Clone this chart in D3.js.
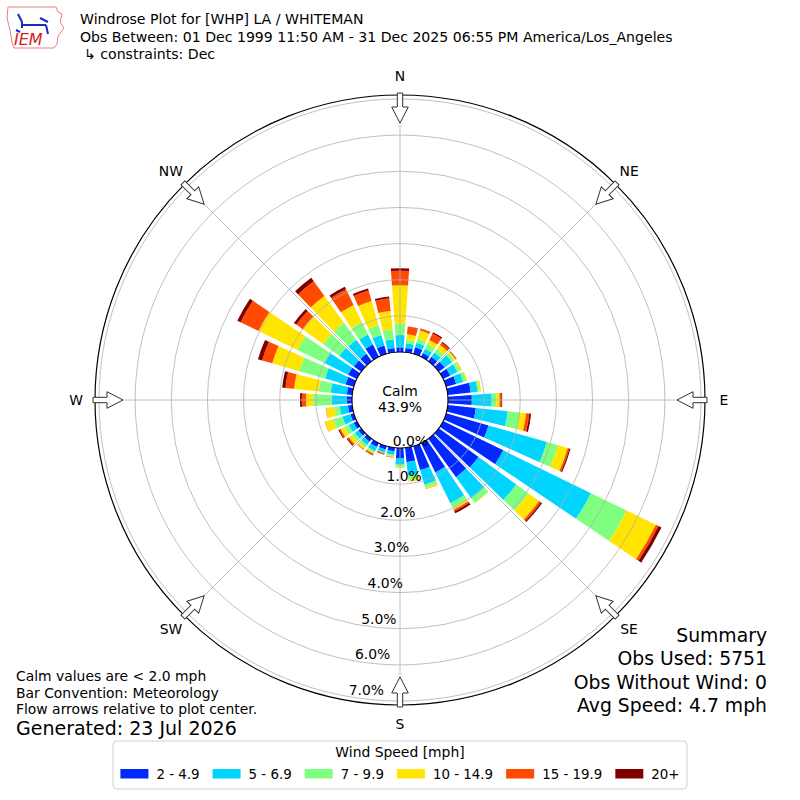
<!DOCTYPE html>
<html>
<head>
<meta charset="utf-8">
<script src="https://cdn.jsdelivr.net/npm/d3@7"></script>
<style>
body { margin: 0; background: #fff; }
text { font-family: "DejaVu Sans", sans-serif; fill: #000; }
</style>
</head>
<body>
<div id="chart"></div>
<script>
var w = 800;
var h = 800;

// wind directions (deg, meteorological) and speed bins
var directions = [0,10,20,30,40,50,60,70,80,90,100,110,120,130,140,150,160,170,
                  180,190,200,210,220,230,240,250,260,270,280,290,300,310,320,330,340,350];
var speedBins = ["2 - 4.9", "5 - 6.9", "7 - 9.9", "10 - 14.9", "15 - 19.9", "20+"];
var binColors = ["#0028ff", "#00d4ff", "#7fff7f", "#ffe500", "#ff4a00", "#800000"];

// percent of obs per direction for each speed bin
var speed2to5   = [0.13,0.12,0.19,0.12,0.15,0.20,0.22,0.29,0.64,0.66,0.78,1.22,1.85,1.36,1.31,0.90,0.69,0.40,
                   0.28,0.10,0.10,0.12,0.10,0.10,0.10,0.10,0.12,0.15,0.15,0.24,0.27,0.25,0.25,0.38,0.24,0.12];
var speed5to7   = [0.34,0.13,0.13,0.13,0.15,0.25,0.22,0.20,0.19,0.55,0.89,1.68,2.70,1.29,0.72,0.95,0.42,0.38,
                   0.18,0.10,0.09,0.13,0.12,0.12,0.15,0.23,0.23,0.41,0.45,0.59,0.72,0.50,0.48,0.31,0.30,0.24];
var speed7to10  = [0.32,0.09,0.12,0.15,0.12,0.08,0.08,0.09,0.06,0.13,0.33,0.32,1.10,0.42,0.16,0.15,0.08,0.10,
                   0.06,0.04,0.02,0.05,0.08,0.10,0.13,0.27,0.15,0.51,0.33,0.74,0.84,0.55,0.58,0.38,0.29,0.28];
var speed10to15 = [1.06,0.16,0.23,0.12,0.13,0.05,0.04,0.03,0.04,0.09,0.18,0.28,0.90,0.36,0.01,0.05,0.04,0.05,
                   0.03,0.03,0.00,0.03,0.06,0.10,0.12,0.23,0.23,0.20,0.69,0.78,1.20,0.70,0.92,0.53,0.69,0.51];
var speed15to20 = [0.40,0.21,0.05,0.20,0.08,0.02,0.01,0.00,0.00,0.05,0.09,0.05,0.08,0.06,0.00,0.05,0.01,0.01,
                   0.00,0.01,0.03,0.04,0.02,0.05,0.04,0.01,0.01,0.12,0.24,0.29,0.55,0.22,0.50,0.48,0.30,0.35];
var speed20up   = [0.07,0.01,0.01,0.04,0.03,0.01,0.00,0.00,0.00,0.02,0.05,0.03,0.09,0.04,0.00,0.06,0.00,0.00,
                   0.00,0.00,0.01,0.01,0.00,0.03,0.03,0.00,0.00,0.05,0.09,0.12,0.10,0.08,0.12,0.08,0.06,0.05];

var rTicks = [0, 1, 2, 3, 4, 5, 6, 7];
var compassNames = ["N", "NE", "E", "SE", "S", "SW", "W", "NW"];
var compassAngles = [0, 45, 90, 135, 180, 225, 270, 315];

var titleLines = ["Windrose Plot for [WHP] LA / WHITEMAN",
                  "Obs Between: 01 Dec 1999 11:50 AM - 31 Dec 2025 06:55 PM America/Los_Angeles",
                  "\u21b3 constraints: Dec"];
var noteLines = ["Calm values are < 2.0 mph", "Bar Convention: Meteorology", "Flow arrows relative to plot center."];
var summaryLines = ["Summary", "Obs Used: 5751", "Obs Without Wind: 0", "Avg Speed: 4.7 mph"];
var calmPct = "43.9%";

var cx = 400, cy = 400;
var calmR = 48, outerR = 305;
var rad = Math.PI / 180;

var svg = d3.select("#chart").append("svg")
    .attr("width", w)
    .attr("height", h)
    .style("background", "#fff");

var rScale = d3.scaleLinear().domain([0, 7.11]).range([calmR, outerR]);

var g = svg.append("g").attr("transform", "translate(" + cx + "," + cy + ")");

// stack the speed bins per direction
var keys = ["b0", "b1", "b2", "b3", "b4", "b5"];
var binValues = [speed2to5, speed5to7, speed7to10, speed10to15, speed15to20, speed20up];
var rows = directions.map(function(d, i) {
    var row = { dir: d };
    keys.forEach(function(k, j) { row[k] = binValues[j][i]; });
    return row;
});
var series = d3.stack().keys(keys)(rows);

var arc = d3.arc();

//Create bars
series.forEach(function(s, k) {
    g.append("g").selectAll("path")
        .data(s.filter(function(p) { return p[1] - p[0] > 0; }))
        .enter()
        .append("path")
        .attr("d", function(p) {
            return arc({
                innerRadius: rScale(p[0]),
                outerRadius: rScale(p[1]),
                startAngle: (p.data.dir - 4) * rad,
                endAngle: (p.data.dir + 4) * rad
            });
        })
        .attr("fill", binColors[k]);
});

// grid on top of bars (matplotlib default)
var grid = g.append("g");
grid.selectAll("circle.ring")
    .data(rTicks.slice(1))
    .enter()
    .append("circle")
    .attr("class", "ring")
    .attr("r", function(d) { return rScale(d); })
    .attr("fill", "none")
    .attr("stroke", "#b0b0b0")
    .attr("stroke-width", 0.8);

grid.selectAll("line.spoke")
    .data(compassAngles)
    .enter()
    .append("line")
    .attr("x1", 0).attr("y1", 0)
    .attr("x2", function(d) { return outerR * Math.sin(d * rad); })
    .attr("y2", function(d) { return -outerR * Math.cos(d * rad); })
    .attr("stroke", "#b0b0b0")
    .attr("stroke-width", 0.8);

g.append("circle")
    .attr("r", outerR)
    .attr("fill", "none")
    .attr("stroke", "#000")
    .attr("stroke-width", 1.2);

// calm circle
g.append("circle")
    .attr("r", calmR)
    .attr("fill", "#fff")
    .attr("stroke", "#000")
    .attr("stroke-width", 1.1);

g.append("text").attr("x", 0).attr("y", -4).attr("text-anchor", "middle")
    .attr("font-size", "13.9px").text("Calm");
g.append("text").attr("x", 0).attr("y", 12).attr("text-anchor", "middle")
    .attr("font-size", "13.9px").text(calmPct);

// flow arrows at compass points
var arrowPts = [[-2.7, -307], [2.7, -307], [2.7, -293], [8.3, -293], [0, -277], [-8.3, -293], [-2.7, -293]];
g.selectAll("path.arrow")
    .data(compassAngles)
    .enter()
    .append("path")
    .attr("class", "arrow")
    .attr("d", "M" + arrowPts.map(function(p) { return p.join(","); }).join("L") + "Z")
    .attr("transform", function(d) { return "rotate(" + d + ")"; })
    .attr("fill", "#fff")
    .attr("stroke", "#333")
    .attr("stroke-width", 1);

// compass labels
g.selectAll("text.compass")
    .data(compassAngles)
    .enter()
    .append("text")
    .attr("x", function(d) { return 324 * Math.sin(d * rad); })
    .attr("y", function(d) { return -324 * Math.cos(d * rad); })
    .attr("dy", "0.35em")
    .attr("text-anchor", "middle")
    .attr("font-size", "13.9px")
    .text(function(d, i) { return compassNames[i]; });

// radial tick labels
var labelAngle = 190;
g.selectAll("text.rtick")
    .data(rTicks)
    .enter()
    .append("text")
    .attr("x", function(d) { return rScale(d) * Math.sin(labelAngle * rad) + 1; })
    .attr("y", function(d) { return -rScale(d) * Math.cos(labelAngle * rad) - 6.5; })
    .attr("dy", "0.35em")
    .attr("font-size", "13.9px")
    .text(function(d) { return d.toFixed(1) + "%"; });

// header
svg.selectAll("text.title")
    .data(titleLines)
    .enter()
    .append("text")
    .attr("x", function(d, i) { return i == 2 ? 84 : 80; })
    .attr("y", function(d, i) { return 24 + i * 17.5; })
    .attr("font-size", "14.1px")
    .text(function(d) { return d; });

// IEM logo (rough)
var logo = svg.append("g");
logo.append("path")
    .attr("d", "M8,7 L56,7 L58,12 L62,14 L60,22 L64,28 L58,36 L57,44 L54,48 L14,48 L12,42 L10,30 L7,18 Z")
    .attr("fill", "none")
    .attr("stroke", "#e88080")
    .attr("stroke-width", 1);
logo.append("path")
    .attr("d", "M18,14 L22,22 L22,28 M22,25 L46,25 M40,18 L48,22 M46,25 L48,34 M16,30 L20,32")
    .attr("fill", "none")
    .attr("stroke", "#1a2bbf")
    .attr("stroke-width", 2);
logo.append("text")
    .attr("x", 14).attr("y", 45)
    .attr("font-family", "'Liberation Serif', serif")
    .attr("font-style", "italic")
    .attr("font-size", "16px")
    .style("fill", "#d42020")
    .text("IEM");

// notes bottom left
svg.selectAll("text.note")
    .data(noteLines)
    .enter()
    .append("text")
    .attr("x", 16)
    .attr("y", function(d, i) { return 681 + i * 16.7; })
    .attr("font-size", "13.9px")
    .text(function(d) { return d; });
svg.append("text")
    .attr("x", 16).attr("y", 735)
    .attr("font-size", "19px")
    .text("Generated: 23 Jul 2026");

// summary bottom right
svg.selectAll("text.summary")
    .data(summaryLines)
    .enter()
    .append("text")
    .attr("x", 767)
    .attr("y", function(d, i) { return 642 + i * 23.3; })
    .attr("text-anchor", "end")
    .attr("font-size", "18.8px")
    .text(function(d) { return d; });

// legend
var leg = svg.append("g");
leg.append("rect")
    .attr("x", 113).attr("y", 741)
    .attr("width", 574).attr("height", 48)
    .attr("rx", 4)
    .attr("fill", "#fff")
    .attr("stroke", "#d0d0d0");
leg.append("text")
    .attr("x", 400).attr("y", 757)
    .attr("text-anchor", "middle")
    .attr("font-size", "13.9px")
    .text("Wind Speed [mph]");

var entries = leg.selectAll("g.entry")
    .data(speedBins)
    .enter()
    .append("g");
entries.append("rect")
    .attr("width", 28).attr("height", 9.5)
    .attr("y", 769)
    .attr("fill", function(d, i) { return binColors[i]; });
entries.append("text")
    .attr("x", 36)
    .attr("y", 779)
    .attr("font-size", "13.4px")
    .text(function(d) { return d; });

var xpos = 0;
var offsets = [];
entries.each(function() {
    offsets.push(xpos);
    xpos += 36 + this.querySelector("text").getComputedTextLength() + 13;
});
var startX = 400 - (xpos - 13) / 2;
entries.attr("transform", function(d, i) { return "translate(" + (startX + offsets[i]) + ",0)"; });
</script>
</body>
</html>
